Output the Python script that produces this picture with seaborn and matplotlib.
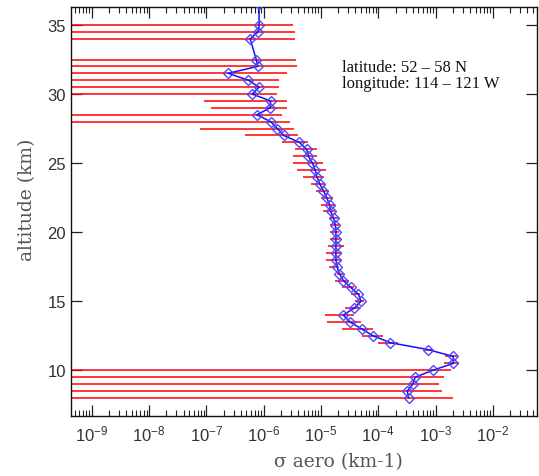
import numpy as np
import pandas as pd
import seaborn as sns
import matplotlib
matplotlib.use("Agg")
import matplotlib.pyplot as plt

# altitude levels (km) - 33.5 and 33 are missing in the profile
altitude = [36.5, 35, 34.5, 34, 32.5, 32, 31.5, 31, 30.5, 30, 29.5, 29, 28.5, 28,
            27.5, 27, 26.5, 26, 25.5, 25, 24.5, 24, 23.5, 23, 22.5, 22, 21.5,
            21, 20.5, 20, 19.5, 19, 18.5, 18, 17.5, 17, 16.5, 16, 15.5, 15,
            14.5, 14, 13.5, 13, 12.5, 12, 11.5, 11, 10.5, 10, 9.5, 9, 8.5, 8]

# aerosol extinction (km-1)
sigma = [8.3e-7, 8.3e-7, 7.9e-7, 5.8e-7, 7.4e-7, 7.8e-7, 2.4e-7, 5.4e-7, 8.3e-7,
         6.3e-7, 1.32e-6, 1.29e-6, 7.6e-7, 1.32e-6, 1.74e-6, 2.24e-6, 4.2e-6,
         5.6e-6, 6.0e-6, 7.1e-6, 7.9e-6, 8.5e-6, 9.5e-6, 1.10e-5, 1.26e-5,
         1.41e-5, 1.48e-5, 1.66e-5, 1.78e-5, 1.82e-5, 1.82e-5, 1.82e-5, 1.82e-5,
         1.82e-5, 1.91e-5, 2.09e-5, 2.45e-5, 3.3e-5, 4.5e-5, 5.0e-5, 3.8e-5,
         2.45e-5, 3.2e-5, 5.1e-5, 8.1e-5, 1.62e-4, 7.4e-4, 2.04e-3, 2.04e-3,
         8.9e-4, 4.4e-4, 4.0e-4, 3.2e-4, 3.4e-4]

# error bar limits (0 = bar runs to the left edge)
sigma_lo = [np.nan, 0, 0, 0, 0, 0, 0, 0, 0, 0, 9.1e-8, 1.2e-7, 0, 0, 7.8e-8,
            4.8e-7, 2.1e-6, 3.5e-6, 3.2e-6, 3.2e-6, 3.8e-6, 4.8e-6, 6.6e-6,
            8.1e-6, 1.0e-5, 1.02e-5, 1.10e-5, 1.41e-5, 1.45e-5, 1.41e-5, 1.41e-5,
            1.32e-5, 1.23e-5, 1.23e-5, 1.38e-5, 1.91e-5, 1.78e-5, 2.29e-5, 3.4e-5,
            4.0e-5, 2.6e-5, 1.17e-5, 1.26e-5, 2.34e-5, 5.1e-5, 1.0e-4, 6.2e-4,
            1.48e-3, 1.41e-3, 0, 0, 0, 0, 0]
sigma_hi = [np.nan, 3.2e-6, 3.5e-6, 3.5e-6, 3.6e-6, 3.8e-6, 2.6e-6, 1.86e-6,
            1.82e-6, 1.74e-6, 2.5e-6, 2.5e-6, 2.1e-6, 2.9e-6, 3.4e-6, 4.0e-6,
            6.0e-6, 8.5e-6, 8.5e-6, 1.07e-5, 1.20e-5, 1.15e-5, 1.17e-5, 1.38e-5,
            1.62e-5, 1.78e-5, 1.78e-5, 1.95e-5, 2.09e-5, 2.09e-5, 2.14e-5, 2.5e-5,
            2.34e-5, 2.34e-5, 2.09e-5, 2.45e-5, 3.1e-5, 3.7e-5, 4.8e-5, 5.6e-5,
            5.0e-5, 3.8e-5, 5.0e-5, 8.1e-5, 1.20e-4, 2.24e-4, 8.5e-4, 2.34e-3,
            2.6e-3, 1.86e-3, 1.41e-3, 1.17e-3, 1.29e-3, 2.04e-3]

xticks = [1e-9, 1e-8, 1e-7, 1e-6, 1e-5, 1e-4, 1e-3, 1e-2]
xtick_labels = [r"$\mathregular{10^{-9}}$", r"$\mathregular{10^{-8}}$",
                r"$\mathregular{10^{-7}}$", r"$\mathregular{10^{-6}}$",
                r"$\mathregular{10^{-5}}$", r"$\mathregular{10^{-4}}$",
                r"$\mathregular{10^{-3}}$", r"$\mathregular{10^{-2}}$"]
yticks = [10, 15, 20, 25, 30, 35]

df = pd.DataFrame({"alt": altitude, "sigma": sigma,
                   "lo": sigma_lo, "hi": sigma_hi})

sns.set_style("ticks")
plt.rcParams["font.family"] = ["Liberation Sans", "DejaVu Sans"]

fig = plt.figure(figsize=(5.39, 4.77), dpi=100)
ax = fig.add_axes([70.7 / 539, 1 - 417.3 / 477, 466 / 539, 409 / 477])

# red error bars
ax.hlines(df["alt"], np.maximum(df["lo"], 1e-14), df["hi"],
          color="red", lw=1.1, zorder=2)

# profile
sns.lineplot(data=df, x="sigma", y="alt", sort=False, estimator=None,
             color="#1010ff", lw=1.1, marker="D", markersize=5,
             markerfacecolor="none", markeredgecolor="#4a4aff",
             markeredgewidth=1.0, ax=ax, zorder=3)

ax.set_xscale("log")
ax.set_xlim(10 ** -9.37, 10 ** -1.234)
ax.set_ylim(6.67, 36.28)
ax.set_xticks(xticks)
ax.set_xticklabels(xtick_labels)
ax.set_yticks(yticks)
ax.yaxis.set_minor_locator(matplotlib.ticker.NullLocator())
ax.tick_params(which="both", direction="in", top=True, right=True,
               labelsize=12, colors="#222222", labelcolor="#333333")
ax.tick_params(which="major", length=8, width=0.9)
ax.tick_params(which="minor", length=4, width=0.8)
ax.tick_params(axis="x", pad=5)
for s in ax.spines.values():
    s.set_linewidth(1.0)
    s.set_color("#111111")
ax.set_xlabel("")
ax.set_ylabel("")

fig.text(0.628, 0.032, "σ aero (km-1)", ha="center", va="center",
         fontsize=13.5, color="#555555", family=["DejaVu Serif"])
fig.text(0.05, 0.581, "altitude (km)", ha="center", va="center", rotation=90,
         fontsize=13.5, color="#555555", family=["DejaVu Serif"])
fig.text(0.634, 0.857, "latitude: 52 \u2013 58 N", ha="left", va="center",
         fontsize=12, color="#111111", family=["Liberation Serif", "DejaVu Serif"])
fig.text(0.634, 0.824, "longitude: 114 \u2013 121 W", ha="left", va="center",
         fontsize=12, color="#111111", family=["Liberation Serif", "DejaVu Serif"])

fig.savefig("out.png", dpi=100)
